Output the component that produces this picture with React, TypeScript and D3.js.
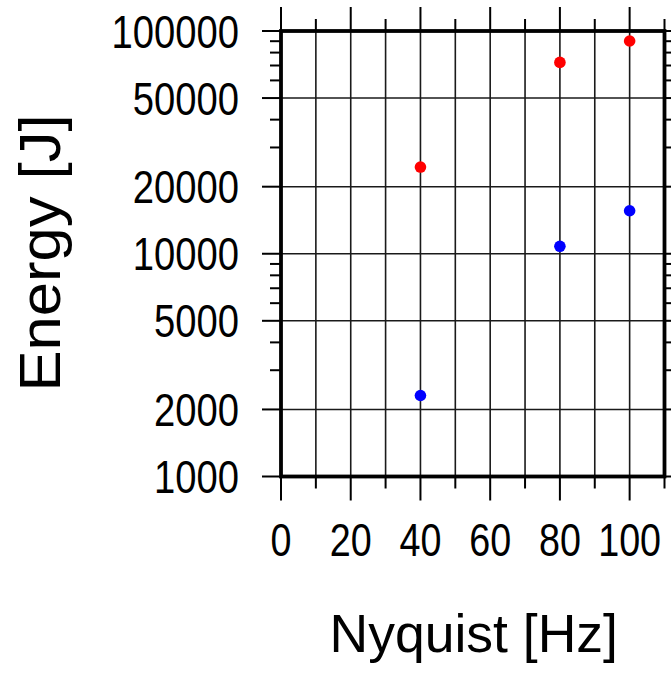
import React from "react";
import * as d3 from "d3";

// values
const nyquist = [40, 80, 100];
const energyRed = [24500, 72300, 90200];
const energyBlue = [2310, 10800, 15600];

const xMajorTicks = [0, 20, 40, 60, 80, 100];
const xMinorTicks = [10, 30, 50, 70, 90, 110];
const xGridLines = [10, 20, 30, 40, 50, 60, 70, 80, 90, 100];
const yMajorTicks = [1000, 2000, 5000, 10000, 20000, 50000, 100000];
const yMinorTicks = [3000, 4000, 6000, 7000, 8000, 9000, 30000, 40000, 60000, 70000, 80000, 90000];
const yTickLabels = ["1000", "2000", "5000", "10000", "20000", "50000", "100000"];

const W = 671;
const H = 674;
const left = 281;
const right = 664.5;
const top = 31;
const bottom = 476.5;

const font = "'Liberation Sans', Arial, Helvetica, sans-serif";

const App: React.FC = () => {
  const x = d3.scaleLinear().domain([0, 110]).range([left, right]);
  const y = d3.scaleLog().domain([1000, 100000]).range([bottom, top]);

  const majLenX = 24;
  const minLenX = 12;
  const majLenY = 19;
  const minLenY = 11;

  return (
    <svg
      width={W}
      height={H}
      style={{ position: "absolute", left: 0, top: 0, background: "#fff" }}
    >
      {/* grid */}
      <g stroke="#1a1a1a" strokeWidth={1.6}>
        {xGridLines.map((d) => (
          <line key={"gx" + d} x1={x(d)} x2={x(d)} y1={top} y2={bottom} />
        ))}
        {yMajorTicks.map((d) => (
          <line key={"gy" + d} x1={left} x2={right} y1={y(d)} y2={y(d)} />
        ))}
      </g>

      {/* ticks, outward on all sides */}
      <g stroke="#000" strokeWidth={2}>
        {xMajorTicks.map((d) => (
          <g key={"xt" + d}>
            <line x1={x(d)} x2={x(d)} y1={bottom} y2={bottom + majLenX} />
            <line x1={x(d)} x2={x(d)} y1={top} y2={top - majLenX} />
          </g>
        ))}
        {xMinorTicks.map((d) => (
          <g key={"xm" + d}>
            <line x1={x(d)} x2={x(d)} y1={bottom} y2={bottom + minLenX} />
            <line x1={x(d)} x2={x(d)} y1={top} y2={top - minLenX} />
          </g>
        ))}
        {yMajorTicks.map((d) => (
          <g key={"yt" + d}>
            <line x1={left} x2={left - majLenY} y1={y(d)} y2={y(d)} />
            <line x1={right} x2={right + majLenY} y1={y(d)} y2={y(d)} />
          </g>
        ))}
        {yMinorTicks.map((d) => (
          <g key={"ym" + d}>
            <line x1={left} x2={left - minLenY} y1={y(d)} y2={y(d)} />
            <line x1={right} x2={right + minLenY} y1={y(d)} y2={y(d)} />
          </g>
        ))}
      </g>

      {/* frame */}
      <rect
        x={left}
        y={top}
        width={right - left}
        height={bottom - top}
        fill="none"
        stroke="#000"
        strokeWidth={3.8}
      />

      {/* points */}
      {nyquist.map((d, i) => (
        <circle key={"r" + i} cx={x(d)} cy={y(energyRed[i])} r={5.8} fill="#ff0000" />
      ))}
      {nyquist.map((d, i) => (
        <circle key={"b" + i} cx={x(d)} cy={y(energyBlue[i])} r={5.8} fill="#0000ff" />
      ))}

      {/* tick labels */}
      <g fontFamily={font} fontSize={46} fill="#000">
        {yMajorTicks.map((d, i) => (
          <text
            key={"yl" + d}
            transform={`translate(239,${y(d) + 16.5}) scale(0.83,1)`}
            textAnchor="end"
          >
            {yTickLabels[i]}
          </text>
        ))}
        {xMajorTicks.map((d) => (
          <text
            key={"xl" + d}
            transform={`translate(${x(d)},556) scale(0.82,1)`}
            textAnchor="middle"
          >
            {d}
          </text>
        ))}
      </g>

      {/* axis titles */}
      <text
        x={(left + right) / 2 + 1}
        y={652}
        textAnchor="middle"
        fontFamily={font}
        fontSize={53.5}
        fill="#000"
      >
        Nyquist [Hz]
      </text>
      <text
        transform={`translate(60,253) rotate(-90) scale(1.08,1)`}
        textAnchor="middle"
        fontFamily={font}
        fontSize={57}
        fill="#000"
      >
        Energy [J]
      </text>
    </svg>
  );
};

export default App;
